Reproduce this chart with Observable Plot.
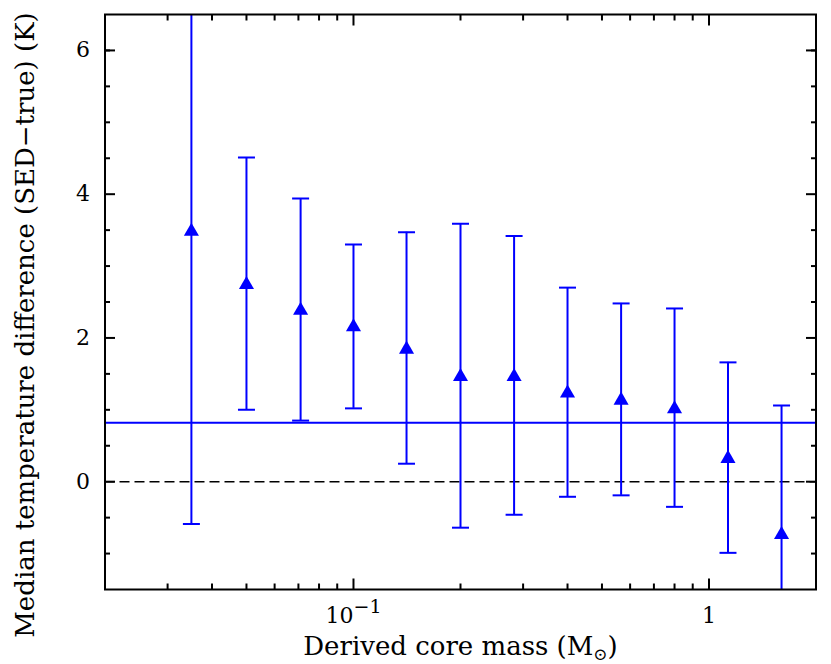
<!DOCTYPE html>
<html><head><meta charset="utf-8">
<script src="https://cdn.jsdelivr.net/npm/d3@7"></script>
<script src="https://cdn.jsdelivr.net/npm/@observablehq/plot@0.6"></script>
<style>body{margin:0;background:#fff} #chart svg{display:block}</style>
</head><body><div id="chart"></div>
<script>
// Derived core mass (Msun) bins
const mass = [0.035, 0.05, 0.071, 0.1, 0.141, 0.2, 0.283, 0.4, 0.566, 0.8, 1.131, 1.6];
// Median temperature difference (K)
const median = [3.51, 2.77, 2.41, 2.18, 1.87, 1.49, 1.49, 1.26, 1.16, 1.04, 0.35, -0.71];
// Error bar ends
const upper = [7.6, 4.51, 3.94, 3.30, 3.47, 3.59, 3.42, 2.70, 2.48, 2.41, 1.66, 1.06];
const lower = [-0.59, 1.00, 0.85, 1.02, 0.25, -0.64, -0.46, -0.21, -0.19, -0.35, -0.99, -2.2];
// Overall median line
const meanLine = [0.82];
const zeroLine = [0];
// Ticks
const xMajor = [0.1, 1];
const xTickLabels = ["10⁻¹", "1"];
const xMinor = [0.03, 0.04, 0.05, 0.06, 0.07, 0.08, 0.09, 0.2, 0.3, 0.4, 0.5, 0.6, 0.7, 0.8, 0.9];
const yMajor = [0, 2, 4, 6];
const yTickLabels = ["0", "2", "4", "6"];
const yMinor = [-1, -0.5, 0.5, 1, 1.5, 2.5, 3, 3.5, 4.5, 5, 5.5, 6];
const xLabel = "Derived core mass (M⊙)";
const yLabel = "Median temperature difference (SED\u2212true) (K)";

const data = mass.map((m, i) => ({mass: m, median: median[i], lo: lower[i], hi: upper[i]}));
const blue = "#0000ff";
const capSymbol = {draw(ctx, size) { const w = 8.5; ctx.moveTo(-w, 0); ctx.lineTo(w, 0); }};

const tickOpts = {strokeWidth: 2, tickFormat: () => "", label: null};

const plot = Plot.plot({
  width: 831, height: 664,
  marginLeft: 104.5, marginRight: 15.5, marginTop: 14, marginBottom: 75,
  style: {fontFamily: "DejaVu Serif", background: "white", color: "black"},
  x: {type: "log", domain: [0.02, 2], label: null},
  y: {domain: [-1.5, 6.5], label: null},
  marks: [
    Plot.ruleY(zeroLine, {stroke: "black", strokeWidth: 1.6, strokeDasharray: "10,5"}),
    Plot.ruleY(meanLine, {stroke: blue, strokeWidth: 2}),
    Plot.ruleX(data, {x: "mass", y1: "lo", y2: "hi", stroke: blue, strokeWidth: 2, clip: true}),
    Plot.dot(data, {x: "mass", y: "lo", symbol: capSymbol, r: 5, fill: "none", stroke: blue, strokeWidth: 2, clip: true}),
    Plot.dot(data, {x: "mass", y: "hi", symbol: capSymbol, r: 5, fill: "none", stroke: blue, strokeWidth: 2, clip: true}),
    Plot.dot(data, {x: "mass", y: "median", symbol: "triangle", r: 5.6, fill: blue, stroke: "none", dy: 2}),
    // inward ticks, all four sides
    Plot.axisX({...tickOpts, anchor: "bottom", ticks: xMajor, tickSize: -10.5}),
    Plot.axisX({...tickOpts, anchor: "bottom", ticks: xMinor, tickSize: -5.5}),
    Plot.axisX({...tickOpts, anchor: "top", ticks: xMajor, tickSize: -10.5}),
    Plot.axisX({...tickOpts, anchor: "top", ticks: xMinor, tickSize: -5.5}),
    Plot.axisY({...tickOpts, anchor: "left", ticks: yMajor, tickSize: -10.5}),
    Plot.axisY({...tickOpts, anchor: "left", ticks: yMinor, tickSize: -5.5}),
    Plot.axisY({...tickOpts, anchor: "right", ticks: yMajor, tickSize: -10.5}),
    Plot.axisY({...tickOpts, anchor: "right", ticks: yMinor, tickSize: -5.5}),
    // tick labels
    Plot.axisX({anchor: "bottom", ticks: xMajor, tickSize: 0, tickPadding: 18, fontSize: 22,
      tickFormat: d => xTickLabels[xMajor.indexOf(d)], label: null}),
    Plot.axisY({anchor: "left", ticks: yMajor, tickSize: 0, tickPadding: 15, fontSize: 22,
      tickFormat: d => yTickLabels[yMajor.indexOf(d)], label: null}),
    // axis titles
    Plot.text([xLabel], {frameAnchor: "bottom", dy: 65, lineAnchor: "bottom", textAnchor: "middle",
      fontSize: 26, text: d => d, letterSpacing: "1px"}),
    Plot.text([yLabel], {frameAnchor: "left", dx: -71.5, dy: 23, rotate: -90, lineAnchor: "bottom",
      textAnchor: "middle", fontSize: 26, text: d => d, letterSpacing: "0.5px"}),
    Plot.frame({stroke: "black", strokeWidth: 2})
  ]
});

const NS = "http://www.w3.org/2000/svg";
function tspan(txt, attrs) {
  const t = document.createElementNS(NS, "tspan");
  for (const k in attrs) t.setAttribute(k, attrs[k]);
  t.textContent = txt;
  return t;
}
plot.querySelectorAll("text").forEach(t => {
  if (t.textContent === "10⁻¹") {
    t.textContent = "";
    t.appendChild(tspan("10", {}));
    t.appendChild(tspan("\u22121", {dy: "-0.55em", "font-size": "19"}));
  } else if (t.textContent === xLabel) {
    t.textContent = "";
    t.appendChild(tspan("Derived core mass (M", {}));
    t.appendChild(tspan("⊙", {dy: "5", "font-size": "17"}));
    t.appendChild(tspan(")", {dy: "-5"}));
  }
});
document.getElementById("chart").appendChild(plot);
</script>
</body></html>
